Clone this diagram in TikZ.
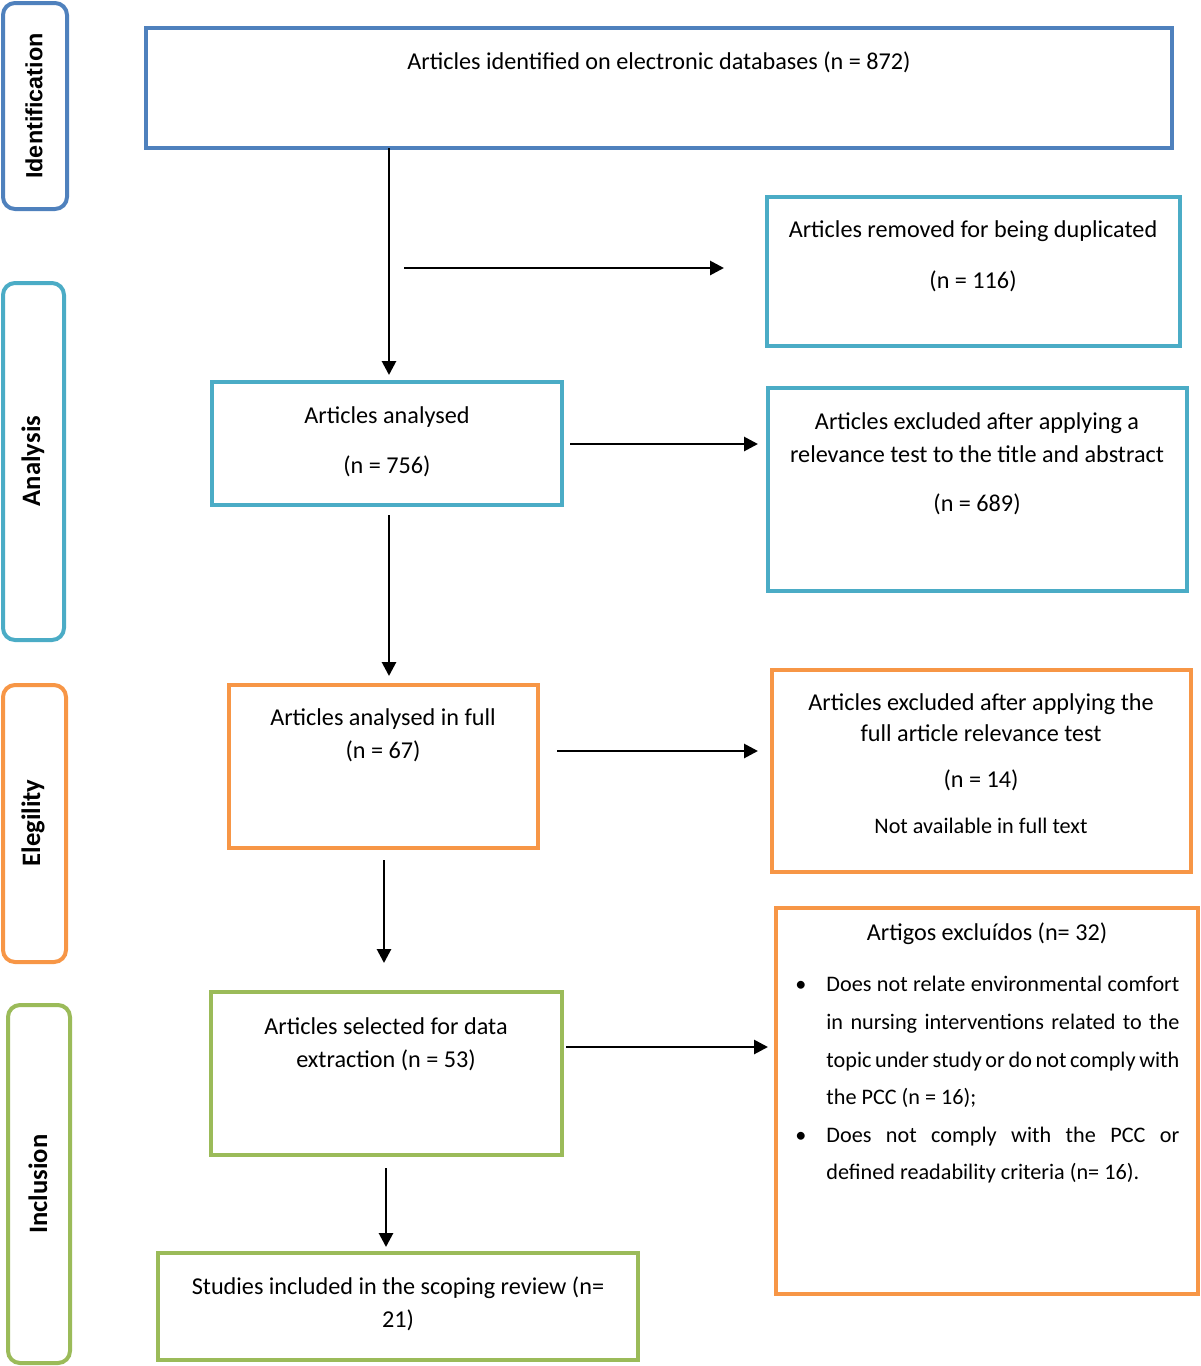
\documentclass[tikz,border=0pt]{standalone}
\usepackage{fontspec}
\setmainfont{Carlito}
\newfontfamily\arialfont{Liberation Sans}
\usetikzlibrary{fit,arrows.meta}
\definecolor{cblue}{HTML}{4F81BD}
\definecolor{cteal}{HTML}{4BACC6}
\definecolor{corange}{HTML}{F79646}
\definecolor{cgreen}{HTML}{9BBB59}
\newcommand{\jline}[1]{\makebox[176.5pt][s]{#1}}
\newcommand{\lline}[1]{\makebox[176.5pt][l]{#1}}
\newcommand{\bul}{\makebox[18pt][l]{\hspace{2.5pt}\textbullet}}
\newcommand{\nob}{\hspace*{18pt}}
\begin{document}
\begin{tikzpicture}[x=0.5pt,y=-0.5pt,
  box/.style={draw=#1, line width=2pt, inner sep=0pt},
  side/.style={draw=#1, line width=2pt, inner sep=0pt, rounded corners=6pt},
  txt/.style={inner sep=0pt, font=\fontsize{12.1}{14.5}\selectfont, align=center},
  lab/.style={inner sep=0pt, rotate=90, font=\fontsize{13.3}{15}\selectfont\bfseries},
  arr/.style={line width=1.4pt, -{Triangle[length=7pt,width=7pt]}}]
\useasboundingbox (0,0) rectangle (1200,1366);
% side bars
\node[side=cblue, fit={(3,3)(67,209)}] (sidI) {};
\node[side=cteal, fit={(3,283)(64,640)}] (sidA) {};
\node[side=corange, fit={(3,685)(66,962)}] (sidE) {};
\node[side=cgreen, fit={(8,1005)(70,1363)}] (sidN) {};
\node[lab, font=\fontsize{11.7}{13}\selectfont\bfseries\arialfont] at (34,106) {Identification};
\node[lab] at (33,461) {Analysis};
\node[lab] at (33,823) {Elegility};
\node[lab] at (38,1184) {Inclusion};
% boxes
\node[box=cblue, fit={(146,28)(1172,148)}] (ident) {};
\node[txt] at (659,62) {Articles identified on electronic databases (n = 872)};
\node[box=cteal, fit={(767,197)(1180,346)}] (dup) {};
\node[txt] at (973,231) {Articles removed for being duplicated};
\node[txt] at (973,281) {(n = 116)};
\node[box=cteal, fit={(212,382)(562,505)}] (anal) {};
\node[txt] at (387,417) {Articles analysed};
\node[txt] at (387,466) {(n = 756)};
\node[box=cteal, fit={(768,388)(1187,591)}] (ex1) {};
\node[txt] at (977,423) {Articles excluded after applying a};
\node[txt] at (977,454) {relevance test to the title and abstract};
\node[txt] at (977,504) {(n = 689)};
\node[box=corange, fit={(229,685)(538,848)}] (full) {};
\node[txt] at (383,719) {Articles analysed in full};
\node[txt] at (383,751) {(n = 67)};
\node[box=corange, fit={(772,670)(1191,872)}] (ex2) {};
\node[txt] at (981,704) {Articles excluded after applying the};
\node[txt] at (981,733) {full article relevance test};
\node[txt] at (981,780) {(n = 14)};
\node[txt, font=\fontsize{11.1}{13}\selectfont] at (981,826) {Not available in full text};
\node[box=cgreen, fit={(211,992)(562,1155)}] (sel) {};
\node[txt] at (386,1026) {Articles selected for data};
\node[txt] at (386,1060) {extraction (n = 53)};
\node[box=corange, fit={(776,908)(1198,1294)}] (ex3) {};
\node[txt] at (987,934) {Artigos excluídos (n= 32)};
\node[inner sep=0pt, font=\fontsize{11.1}{18.8}\selectfont, anchor=north west, align=left] at (790,976) {%
  \bul\jline{Does not relate environmental comfort}\\
  \nob\jline{in nursing interventions related to the}\\
  \nob\jline{topic under study or do not comply with}\\
  \nob\lline{the PCC (n = 16);}\\
  \bul\jline{Does not comply with the PCC or}\\
  \nob\lline{defined readability criteria (n= 16).}};
\node[box=cgreen, fit={(158,1253)(638,1360)}] (inc) {};
\node[txt] at (398,1288) {Studies included in the scoping review (n=};
\node[txt] at (398,1320) {21)};
% connectors
\coordinate (a1s) at (389,148);
\coordinate (a1e) at (389,375);
\coordinate (h1s) at (404,268);
\coordinate (h1e) at (724,268);
\coordinate (a2s) at (389,515);
\coordinate (a2e) at (389,676);
\coordinate (h2s) at (570,444);
\coordinate (h2e) at (758,444);
\coordinate (a3s) at (384,860);
\coordinate (a3e) at (384,963);
\coordinate (h3s) at (557,751);
\coordinate (h3e) at (758,751);
\coordinate (h4s) at (566,1047);
\coordinate (h4e) at (768,1047);
\coordinate (a4s) at (386,1168);
\coordinate (a4e) at (386,1247);
\draw[arr] (a1s) -- (a1e);
\draw[arr] (h1s) -- (h1e);
\draw[arr] (a2s) -- (a2e);
\draw[arr] (h2s) -- (h2e);
\draw[arr] (a3s) -- (a3e);
\draw[arr] (h3s) -- (h3e);
\draw[arr] (h4s) -- (h4e);
\draw[arr] (a4s) -- (a4e);
\end{tikzpicture}
\end{document}
